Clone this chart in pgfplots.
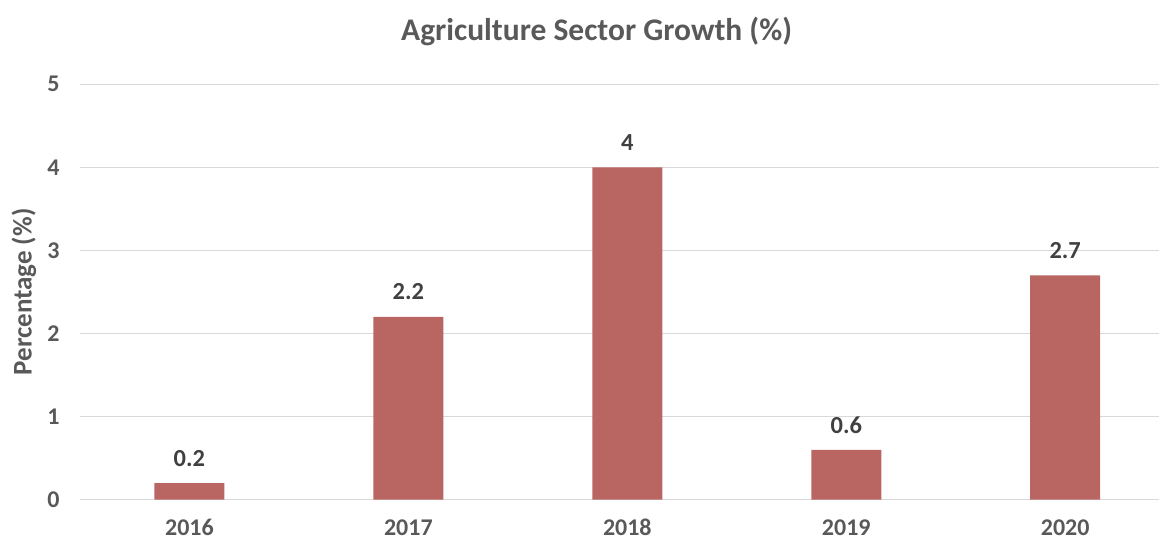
\documentclass[border=0pt]{standalone}
\usepackage{pgfplots}
\pgfplotsset{compat=1.18}
\usepackage{fontspec}
\setmainfont{Carlito}
\definecolor{barcol}{HTML}{B96562}
\definecolor{txt}{HTML}{595959}
\definecolor{lbl}{HTML}{404040}
\definecolor{gridc}{HTML}{D9D9D9}
\begin{document}
\begin{tikzpicture}[x=1pt,y=1pt]
\path (0,0) rectangle (1160,540);
\begin{axis}[
  at={(80pt,40pt)}, anchor=south west,
  scale only axis, width=1080pt, height=415.7pt,
  xmin=-0.5, xmax=4.43, ymin=0, ymax=5,
  axis line style={draw=none},
  xtick={0,1,2,3,4},
  xticklabels={2016,2017,2018,2019,2020},
  ytick={0,1,2,3,4,5},
  major tick length=0pt,
  ymajorgrids=true, xmajorgrids=false, grid style={draw=gridc, line width=1.3pt},
  tick label style={font=\fontsize{24}{28}\selectfont\bfseries, text=txt},
  yticklabel style={anchor=center, xshift=-26.5pt},
  xticklabel style={anchor=base, yshift=-36pt, inner sep=1pt},
  /pgf/number format/assume math mode=true,
  ylabel={Percentage (\%)},
  ylabel style={font=\fontsize{27}{30}\selectfont\bfseries, text=txt, at={(axis description cs:-0.0519,0.5)}, anchor=center},
  title={Agriculture Sector Growth (\%)},
  title style={font=\fontsize{31.5}{36}\selectfont\bfseries, text=txt, at={(axis description cs:0.4787,1)}, anchor=center, yshift=47pt},
  clip=false,
]
\addplot[ybar, bar width=70pt, fill=barcol, draw=none,
  nodes near coords,
  every node near coord/.append style={font=\fontsize{24.5}{28}\selectfont\bfseries, text=lbl, anchor=center, yshift=25pt},
  point meta=explicit symbolic]
  coordinates {(0,0.2)[0.2] (1,2.2)[2.2] (2,4)[4] (3,0.6)[0.6] (4,2.7)[2.7]};
\end{axis}
\end{tikzpicture}
\end{document}
